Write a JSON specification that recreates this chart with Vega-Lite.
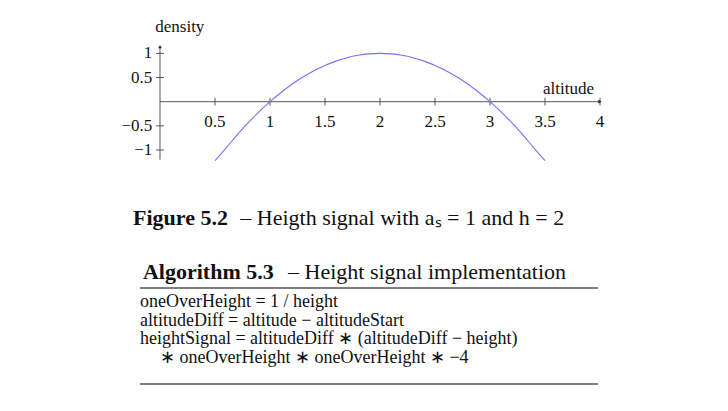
{
  "$schema": "https://vega.github.io/schema/vega-lite/v6.json",
  "width": 728,
  "height": 411,
  "padding": 0,
  "autosize": {"type": "none"},
  "background": "white",
  "config": {"view": {"stroke": null}, "text": {"font": "Liberation Serif", "color": "#111"}},
  "encoding": {
    "x": {"field": "x", "type": "quantitative", "axis": null, "scale": {"domain": [-1.4545, 5.1636], "nice": false, "zero": false}},
    "y": {"field": "y", "type": "quantitative", "axis": null, "scale": {"domain": [-6.4037, 2.1056], "nice": false, "zero": false}}
  },
  "layer": [
    {
      "data": {"values": [
        {"x": 0, "y": 0, "x2": 4.0, "y2": 0},
        {"x": 0, "y": -1.2, "x2": 0, "y2": 1.14},
        {"x": 0.5, "y": -0.08, "x2": 0.5, "y2": 0.08},
        {"x": 1, "y": -0.08, "x2": 1, "y2": 0.08},
        {"x": 1.5, "y": -0.08, "x2": 1.5, "y2": 0.08},
        {"x": 2, "y": -0.08, "x2": 2, "y2": 0.08},
        {"x": 2.5, "y": -0.08, "x2": 2.5, "y2": 0.08},
        {"x": 3, "y": -0.08, "x2": 3, "y2": 0.08},
        {"x": 3.5, "y": -0.08, "x2": 3.5, "y2": 0.08},
        {"x": 4, "y": -0.08, "x2": 4, "y2": 0.08},
        {"x": -0.036, "y": 1, "x2": 0.036, "y2": 1},
        {"x": -0.036, "y": 0.5, "x2": 0.036, "y2": 0.5},
        {"x": -0.036, "y": -0.5, "x2": 0.036, "y2": -0.5},
        {"x": -0.036, "y": -1, "x2": 0.036, "y2": -1}
      ]},
      "mark": {"type": "rule", "color": "#444", "strokeWidth": 0.9},
      "encoding": {"x2": {"field": "x2"}, "y2": {"field": "y2"}}
    },
    {
      "data": {"values": [
        {"x": 4.0, "y": 0, "shape": "triangle-right"},
        {"x": 0, "y": 1.14, "shape": "triangle-up"}
      ]},
      "mark": {"type": "point", "filled": true, "color": "#222", "size": 14, "opacity": 1},
      "encoding": {"shape": {"field": "shape", "type": "nominal", "scale": null}}
    },
    {
      "data": {"values": [
        {"x": 0.5, "y": -1.22}, {"x": 0.6, "y": -0.96}, {"x": 0.7, "y": -0.69},
        {"x": 0.8, "y": -0.44}, {"x": 0.9, "y": -0.21}, {"x": 1.0, "y": 0},
        {"x": 1.1, "y": 0.19}, {"x": 1.2, "y": 0.36}, {"x": 1.3, "y": 0.51},
        {"x": 1.4, "y": 0.64}, {"x": 1.5, "y": 0.75}, {"x": 1.6, "y": 0.84},
        {"x": 1.7, "y": 0.91}, {"x": 1.8, "y": 0.96}, {"x": 1.9, "y": 0.99},
        {"x": 2.0, "y": 1}, {"x": 2.1, "y": 0.99}, {"x": 2.2, "y": 0.96},
        {"x": 2.3, "y": 0.91}, {"x": 2.4, "y": 0.84}, {"x": 2.5, "y": 0.75},
        {"x": 2.6, "y": 0.64}, {"x": 2.7, "y": 0.51}, {"x": 2.8, "y": 0.36},
        {"x": 2.9, "y": 0.19}, {"x": 3.0, "y": 0}, {"x": 3.1, "y": -0.21},
        {"x": 3.2, "y": -0.44}, {"x": 3.3, "y": -0.69}, {"x": 3.4, "y": -0.96},
        {"x": 3.5, "y": -1.22}
      ]},
      "mark": {"type": "line", "color": "#7373f5", "strokeWidth": 1.1, "interpolate": "monotone"}
    },
    {
      "data": {"values": [
        {"x": 0.5, "y": -0.42, "text": "0.5"}, {"x": 1, "y": -0.42, "text": "1"},
        {"x": 1.5, "y": -0.42, "text": "1.5"}, {"x": 2, "y": -0.42, "text": "2"},
        {"x": 2.5, "y": -0.42, "text": "2.5"}, {"x": 3, "y": -0.42, "text": "3"},
        {"x": 3.5, "y": -0.42, "text": "3.5"}, {"x": 4, "y": -0.42, "text": "4"},
        {"x": 0.18, "y": 1.55, "text": "density"}
      ]},
      "mark": {"type": "text", "fontSize": 17, "align": "center", "baseline": "middle"},
      "encoding": {"text": {"field": "text"}}
    },
    {
      "data": {"values": [
        {"x": -0.07, "y": 1, "text": "1"}, {"x": -0.07, "y": 0.5, "text": "0.5"},
        {"x": -0.07, "y": -0.5, "text": "−0.5"}, {"x": -0.07, "y": -1, "text": "−1"}
      ]},
      "mark": {"type": "text", "fontSize": 17, "align": "right", "baseline": "middle"},
      "encoding": {"text": {"field": "text"}}
    },
    {
      "data": {"values": [{"x": 3.945, "y": 0.26, "text": "altitude"}]},
      "mark": {"type": "text", "fontSize": 17, "align": "right", "baseline": "middle"},
      "encoding": {"text": {"field": "text"}}
    },
    {
      "data": {"values": [
        {"x": -0.245, "y": -2.41, "text": "Figure 5.2"},
        {"x": -0.155, "y": -3.52, "text": "Algorithm 5.3"}
      ]},
      "mark": {"type": "text", "fontSize": 22, "fontWeight": "bold", "align": "left", "baseline": "middle"},
      "encoding": {"text": {"field": "text"}}
    },
    {
      "data": {"values": [
        {"x": 0.73, "y": -2.41, "text": "– Heigth signal with aₛ = 1 and h = 2"},
        {"x": 1.164, "y": -3.52, "text": "– Height signal implementation"}
      ]},
      "mark": {"type": "text", "fontSize": 22, "align": "left", "baseline": "middle"},
      "encoding": {"text": {"field": "text"}}
    },
    {
      "data": {"values": [
        {"x": -0.182, "y": -3.857, "x2": 3.982, "y2": -3.857},
        {"x": -0.182, "y": -5.845, "x2": 3.982, "y2": -5.845}
      ]},
      "mark": {"type": "rule", "color": "#555", "strokeWidth": 1.4},
      "encoding": {"x2": {"field": "x2"}, "y2": {"field": "y2"}}
    },
    {
      "data": {"values": [
        {"x": -0.182, "y": -4.155, "text": "oneOverHeight  =  1  /  height"},
        {"x": -0.182, "y": -4.548, "text": "altitudeDiff  =  altitude  −  altitudeStart"},
        {"x": -0.182, "y": -4.921, "text": "heightSignal  =  altitudeDiff  ∗  (altitudeDiff  −  height)"},
        {"x": 0.0, "y": -5.314, "text": "∗  oneOverHeight  ∗  oneOverHeight  ∗  −4"}
      ]},
      "mark": {"type": "text", "fontSize": 18, "align": "left", "baseline": "middle"},
      "encoding": {"text": {"field": "text"}}
    }
  ]
}
